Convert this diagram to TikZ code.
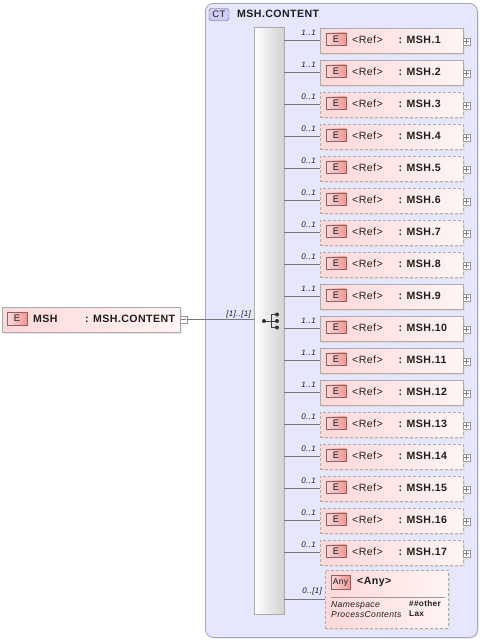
\documentclass[tikz,border=0pt]{standalone}
\usepackage{fontspec}
\setmainfont[LetterSpace=4]{Liberation Sans}
\usetikzlibrary{shadows,calc}
\definecolor{ctfill}{RGB}{230,230,252}
\definecolor{ctline}{RGB}{165,165,180}
\definecolor{elL}{RGB}{255,216,216}
\definecolor{elR}{RGB}{255,244,244}
\definecolor{elline}{RGB}{172,172,172}
\definecolor{ebL}{RGB}{252,218,218}
\definecolor{ebR}{RGB}{238,150,150}
\definecolor{ebline}{RGB}{150,95,95}
\definecolor{ctbfill}{RGB}{205,205,245}
\definecolor{ctbline}{RGB}{90,90,130}
\definecolor{txtc}{RGB}{30,30,30}
\definecolor{conc}{RGB}{120,120,120}
\begin{document}
\begin{tikzpicture}[x=1pt,y=-1pt,
  ctbox/.style={draw=ctline, fill=ctfill, rounded corners=8pt, line width=0.8pt,
     drop shadow={shadow xshift=1.2pt, shadow yshift=-1.2pt, fill=black!22}},
  ctbadge/.style={draw=ctbline, fill=ctbfill, rounded corners=2.5pt, minimum width=20pt,
     minimum height=12pt, inner sep=0pt, text=txtc, font=\fontsize{9.5}{10}\selectfont},
  seqbar/.style={draw=elline, left color=white, right color=black!18, inner sep=0pt},
  elbox/.style={draw=elline, left color=elL, right color=elR, inner sep=0pt, line width=0.6pt,
     drop shadow={shadow xshift=1.5pt, shadow yshift=-1.5pt, fill=black!18}},
  solidb/.style={},
  dashb/.style={dash pattern=on 3pt off 2pt},
  ebadge/.style={draw=ebline, left color=ebL, right color=ebR, minimum width=20pt,
     minimum height=12.5pt, inner sep=0pt, text=txtc, font=\fontsize{9.5}{10}\selectfont},
  btxt/.style={inner sep=0pt, anchor=west, text=txtc, font=\bfseries\fontsize{10.6}{12}\selectfont},
  rtxt/.style={inner sep=0pt, anchor=west, text=txtc, font=\fontsize{10.6}{12}\selectfont},
  mult/.style={inner sep=0pt, anchor=south east, text=txtc, font=\itshape\fontsize{8}{9}\selectfont},
  small/.style={inner sep=0pt, anchor=west, text=txtc, font=\bfseries\fontsize{8.2}{9}\selectfont},
  smalli/.style={inner sep=0pt, anchor=west, text=txtc, font=\itshape\fontsize{8.6}{9}\selectfont},
  conn/.style={draw=conc, line width=0.6pt},
  pm/.style={draw=black!40, fill=white, minimum size=7pt, inner sep=0pt},
]
\useasboundingbox (0,0) rectangle (480,641);
\fill[white] (0,0) rectangle (480,641);

% complex type box
\node[ctbox, anchor=north west, minimum width=272pt, minimum height=634pt] (ct) at (205,3) {};
\node[ctbadge] (ctb) at (219,14.5) {CT};
\node[btxt] (ctname) at (237,14) {MSH.CONTENT};

% sequence bar
\node[seqbar, anchor=north west, minimum width=30pt, minimum height=587pt] (seq) at (254,27) {};
% sequence icon
\draw[black!75, line width=0.9pt] (264,321) -- (271,321) (271,314.5) -- (271,327.5)
   (271,314.5) -- (277,314.5) (271,321) -- (277,321) (271,327.5) -- (277,327.5);
\fill[black!80] (264,321) circle (2pt);
\fill[black!80] (277,314.5) circle (2pt) (277,321) circle (2pt) (277,327.5) circle (2pt);

% main element
\node[elbox, anchor=north west, minimum width=178pt, minimum height=25pt] (msh) at (2,307) {};
\node[ebadge] (mshe) at (17,318.5) {E};
\node[btxt] (mshn) at (33,319) {MSH};
\node[btxt] (msht) at (85,319) {: MSH.CONTENT};
\node[pm] (mshm) at (183.5,319.5) {};
\draw[black!50] ([xshift=1.5pt]mshm.west) -- ([xshift=-1.5pt]mshm.east);
\draw[conn] (mshm.east) -- (seq.west |- mshm.east);
\node[mult] (mshmult) at (251,318) {[1]..[1]};

% children
\foreach \k/\st/\m in {1/solidb/1..1, 2/solidb/1..1, 3/dashb/0..1, 4/dashb/0..1,
   5/dashb/0..1, 6/dashb/0..1, 7/dashb/0..1, 8/dashb/0..1, 9/solidb/1..1,
   10/solidb/1..1, 11/solidb/1..1, 12/solidb/1..1, 13/dashb/0..1, 14/dashb/0..1,
   15/dashb/0..1, 16/dashb/0..1, 17/dashb/0..1}{
  \pgfmathsetmacro\yc{40.5+32*(\k-1)}
  \node[elbox, \st, minimum width=143pt, minimum height=25pt] (c\k) at (391.5,\yc) {};
  \node[ebadge] (e\k) at (336,\yc-1.5) {E};
  \node[rtxt] (r\k) at (352,\yc-1) {<Ref>};
  \node[btxt] (n\k) at (398.5,\yc-1) {: MSH.\k};
  \node[pm] (p\k) at (466.5,\yc+1) {};
  \draw[black!50] ([xshift=1.5pt]p\k.west) -- ([xshift=-1.5pt]p\k.east)
     ([yshift=-1.5pt]p\k.north) -- ([yshift=1.5pt]p\k.south);
  \draw[conn] (seq.east |- c\k.west) -- (c\k.west);
  \node[mult] (m\k) at (316,\yc-4.5) {\m};
}

% any
\node[elbox, dashb, anchor=north west, minimum width=123pt, minimum height=58pt] (any) at (325,570) {};
\node[ebadge, minimum width=19pt, minimum height=14pt, font=\fontsize{8.5}{9}\selectfont] (anyb) at (340.5,582) {Any};
\node[btxt] (anyt) at (357,581.5) {<Any>};
\draw[black!40] ($(any.north west)+(6,27)$) -- ($(any.north east)+(-4,27)$);
\node[smalli] (ns) at (331,605) {Namespace};
\node[smalli] (pc) at (331,614.5) {ProcessContents};
\node[small] (nsv) at (409,604) {\#\#other};
\node[small] (pcv) at (409,613.5) {Lax};
\draw[conn] (seq.east |- any.west) -- (any.west);
\node[mult] (manyl) at (322,595) {0..[1]};
\end{tikzpicture}
\end{document}
